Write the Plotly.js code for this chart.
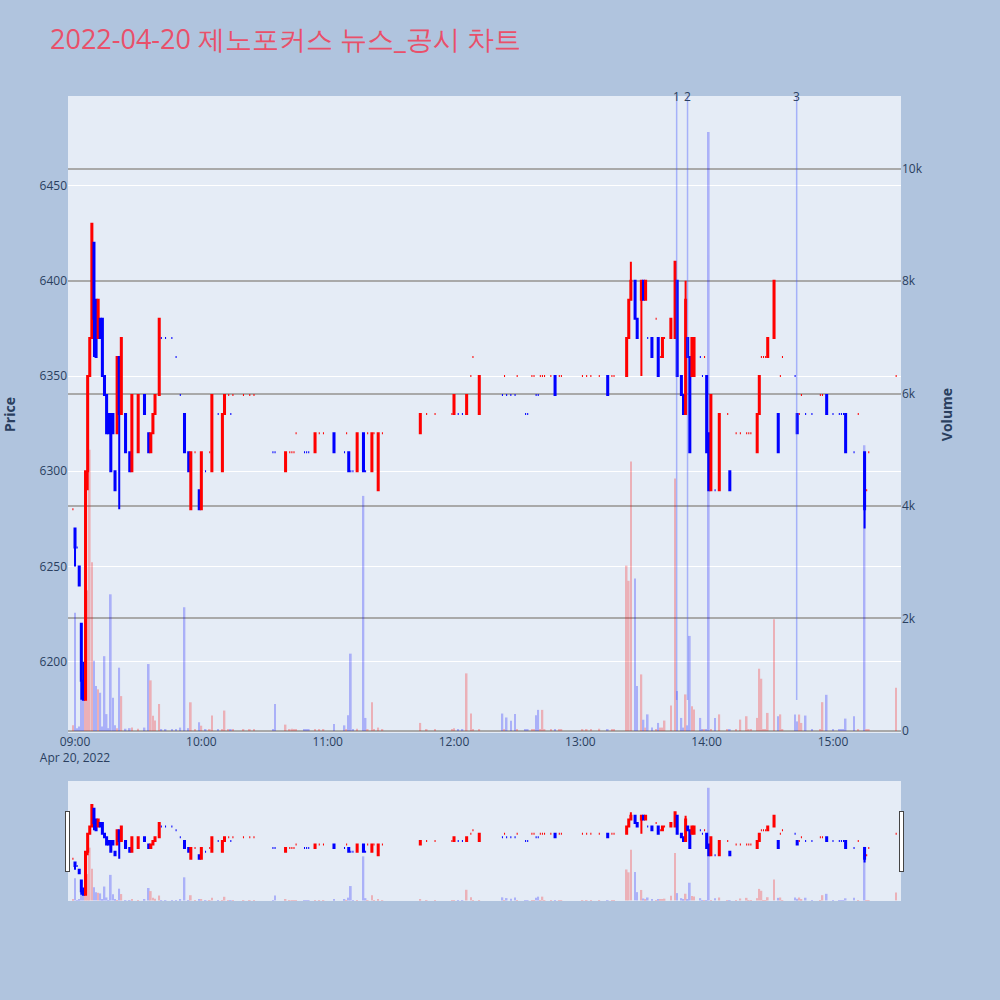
<!DOCTYPE html>
<html>
<head>
<meta charset="utf-8">
<script src="https://cdn.plot.ly/plotly-3.0.1.min.js"></script>
<style>html,body{margin:0;padding:0;background:#B0C4DE;}#chart{width:1000px;height:1000px;}</style>
</head>
<body>
<div id="chart"></div>
<script>
const DAY = '2022-04-20';
const times = [
 '08:59','09:00','09:01','09:02','09:03','09:04','09:05','09:06','09:07','09:08',
 '09:09','09:10','09:11','09:12','09:13','09:14','09:15','09:16','09:17','09:18',
 '09:19','09:20','09:21','09:22','09:24','09:26','09:27','09:30','09:33','09:35',
 '09:36','09:37','09:38','09:40','09:41','09:43','09:46','09:48','09:50','09:52',
 '09:54','09:55','09:57','09:59','10:00','10:02','10:04','10:05','10:08','10:10',
 '10:11','10:13','10:14','10:15','10:20','10:23','10:25','10:34','10:35','10:40',
 '10:42','10:43','10:44','10:45','10:49','10:50','10:51','10:54','10:56','10:58',
 '11:03','11:08','11:09','11:10','11:11','11:12','11:14','11:17','11:18','11:19',
 '11:21','11:22','11:24','11:26','11:44','11:47','11:51','11:59','12:00','12:02',
 '12:04','12:06','12:08','12:09','12:12','12:23','12:24','12:25','12:27','12:29',
 '12:30','12:34','12:35','12:37','12:38','12:39','12:40','12:41','12:42','12:43',
 '12:46','12:48','12:50','12:51','13:01','13:03','13:05','13:09','13:13','13:15',
 '13:16','13:22','13:23','13:24','13:26','13:27','13:29','13:30','13:31','13:32',
 '13:34','13:36','13:37','13:38','13:39','13:40','13:43','13:45','13:46','13:48',
 '13:49','13:50','13:51','13:52','13:53','13:54','13:57','13:58','13:59','14:00',
 '14:01','14:02','14:04','14:06','14:10','14:11','14:14','14:16','14:19','14:20',
 '14:21','14:24','14:25','14:26','14:27','14:28','14:29','14:32','14:34','14:35',
 '14:36','14:42','14:43','14:44','14:45','14:47','14:50','14:54','14:55','14:57',
 '15:00','15:03','15:04','15:05','15:06','15:10','15:12','15:15','15:16','15:17',
 '15:30'
];
const openP = [
 6280,6270,6260,6250,6220,6190,6180,6300,6350,6370,
 6420,6390,6370,6380,6380,6350,6340,6330,6330,6330,
 6300,6320,6360,6330,6330,6310,6300,6310,6340,6320,
 6310,6320,6330,6340,6370,6370,6370,6360,6340,6330,
 6310,6280,6310,6290,6280,6300,6310,6300,6330,6300,
 6330,6340,6330,6340,6340,6340,6340,6310,6310,6300,
 6310,6310,6310,6320,6310,6310,6310,6310,6320,6320,
 6320,6310,6320,6310,6300,6300,6300,6320,6300,6320,
 6300,6320,6290,6320,6320,6330,6330,6330,6330,6330,
 6330,6330,6350,6360,6330,6340,6350,6340,6340,6340,
 6350,6330,6330,6350,6350,6340,6340,6350,6350,6350,
 6350,6350,6350,6350,6350,6350,6350,6350,6350,6350,
 6350,6350,6370,6390,6400,6380,6390,6400,6390,6370,
 6370,6380,6370,6360,6360,6370,6370,6370,6400,6350,
 6340,6330,6370,6360,6350,6350,6360,6350,6360,6350,
 6320,6290,6290,6290,6330,6300,6320,6320,6320,6320,
 6320,6310,6330,6360,6360,6360,6360,6370,6330,6350,
 6360,6350,6330,6330,6340,6330,6330,6340,6340,6340,
 6330,6330,6330,6330,6330,6310,6330,6310,6290,6310,
 6350
];
const highP = [
 6280,6270,6260,6250,6220,6200,6300,6350,6370,6430,
 6420,6390,6390,6380,6380,6350,6340,6330,6330,6330,
 6300,6360,6360,6370,6330,6310,6340,6340,6340,6320,
 6320,6330,6340,6380,6370,6370,6370,6360,6340,6330,
 6310,6310,6310,6290,6310,6300,6310,6340,6330,6330,
 6340,6340,6330,6340,6340,6340,6340,6310,6310,6310,
 6310,6310,6310,6320,6310,6310,6310,6320,6320,6320,
 6320,6310,6320,6310,6300,6300,6320,6320,6300,6320,
 6320,6320,6320,6320,6330,6330,6330,6330,6340,6330,
 6330,6340,6350,6360,6350,6340,6350,6340,6340,6340,
 6350,6330,6330,6350,6350,6340,6340,6350,6350,6350,
 6350,6350,6350,6350,6350,6350,6350,6350,6350,6350,
 6350,6370,6390,6410,6400,6380,6400,6400,6400,6370,
 6370,6380,6370,6360,6370,6370,6380,6410,6400,6350,
 6340,6400,6370,6360,6370,6370,6360,6350,6360,6350,
 6320,6340,6290,6330,6330,6300,6320,6320,6320,6320,
 6320,6330,6350,6360,6360,6360,6370,6400,6330,6350,
 6360,6350,6330,6330,6340,6330,6330,6340,6340,6340,
 6330,6330,6330,6330,6330,6310,6330,6310,6290,6310,
 6350
];
const lowP = [
 6280,6250,6260,6240,6180,6180,6180,6290,6350,6370,
 6360,6360,6370,6370,6350,6340,6320,6320,6300,6320,
 6290,6320,6280,6330,6310,6300,6300,6310,6330,6310,
 6310,6320,6330,6340,6370,6370,6370,6360,6340,6310,
 6300,6280,6310,6280,6280,6300,6310,6300,6330,6300,
 6330,6340,6330,6340,6340,6340,6340,6310,6310,6300,
 6310,6310,6310,6320,6310,6310,6310,6310,6320,6320,
 6310,6310,6320,6300,6300,6300,6300,6300,6300,6320,
 6300,6320,6290,6320,6320,6330,6330,6330,6330,6330,
 6330,6330,6350,6360,6330,6340,6350,6340,6340,6340,
 6350,6330,6330,6350,6350,6340,6340,6350,6350,6350,
 6350,6340,6350,6350,6350,6350,6350,6350,6340,6350,
 6350,6350,6370,6390,6380,6370,6350,6390,6390,6370,
 6360,6380,6350,6360,6360,6370,6370,6370,6350,6340,
 6330,6330,6360,6310,6350,6350,6360,6350,6360,6310,
 6290,6290,6290,6290,6330,6290,6320,6320,6320,6320,
 6320,6310,6330,6360,6360,6360,6360,6370,6310,6350,
 6360,6350,6320,6330,6340,6330,6330,6340,6340,6330,
 6330,6330,6330,6330,6310,6310,6330,6270,6290,6310,
 6350
];
const closeP = [
 6280,6260,6260,6240,6190,6180,6300,6350,6370,6430,
 6380,6360,6390,6370,6350,6340,6320,6320,6300,6320,
 6290,6360,6330,6370,6310,6300,6340,6340,6330,6310,
 6320,6330,6340,6380,6370,6370,6370,6360,6340,6310,
 6300,6310,6310,6280,6310,6300,6310,6340,6330,6330,
 6340,6340,6330,6340,6340,6340,6340,6310,6310,6310,
 6310,6310,6310,6320,6310,6310,6310,6320,6320,6320,
 6310,6310,6320,6300,6300,6300,6320,6300,6300,6320,
 6320,6320,6320,6320,6330,6330,6330,6330,6340,6330,
 6330,6340,6350,6360,6350,6340,6350,6340,6340,6340,
 6350,6330,6330,6350,6350,6340,6340,6350,6350,6350,
 6350,6340,6350,6350,6350,6350,6350,6350,6340,6350,
 6350,6370,6390,6400,6380,6370,6400,6390,6400,6370,
 6360,6380,6350,6360,6370,6370,6380,6410,6350,6340,
 6330,6390,6360,6310,6370,6370,6360,6350,6360,6310,
 6290,6340,6290,6330,6330,6290,6320,6320,6320,6320,
 6320,6330,6350,6360,6360,6360,6370,6400,6310,6350,
 6360,6350,6320,6330,6340,6330,6330,6340,6340,6330,
 6330,6330,6330,6330,6310,6310,6330,6280,6290,6310,
 6350
];
const volume = [
 100,2100,50,80,1330,700,4400,2500,5000,3000,
 1250,800,740,680,80,1330,300,50,2430,590,
 100,50,1125,620,40,50,60,40,60,1190,
 900,270,185,480,20,20,20,20,60,2200,
 50,510,30,155,94,20,20,274,20,20,
 363,20,20,20,20,20,20,20,480,113,
 20,40,20,20,20,30,20,20,20,20,
 125,100,20,280,1375,20,40,4180,232,20,
 512,20,60,20,143,20,20,30,50,20,
 20,1024,310,20,20,310,20,240,180,300,
 20,20,20,20,20,280,375,20,375,20,
 20,30,20,20,20,30,30,40,30,20,
 20,2940,2670,4790,2710,800,1006,200,60,295,
 60,20,143,60,60,185,452,4490,710,232,
 60,650,100,1690,440,380,232,20,20,20,
 10650,20,232,295,20,20,20,202,262,20,
 20,232,1107,929,20,20,321,1988,262,295,
 20,292,170,292,143,274,20,20,512,643,
 20,20,20,20,220,262,20,5080,20,20,
 768
];
const newsTimes = ['13:45:45','13:50:55','14:42:45'];
const newsLabels = ['1','2','3'];

const xs = times.map(t => DAY + ' ' + t);

// candle direction (same rule as plotly: doji compares with previous close)
const dirColors = [];
let inc = true, cPrev = null;
for (let i = 0; i < xs.length; i++) {
  const o = openP[i], c = closeP[i];
  if (c === o) { if (cPrev !== null && c !== cPrev) inc = c > cPrev; }
  else inc = c > o;
  cPrev = c;
  dirColors.push(inc ? 'red' : 'blue');
}

const volTrace = {
  type: 'bar', x: xs, y: volume, yaxis: 'y2', name: 'Volume',
  marker: {color: dirColors, line: {width: 0}}, opacity: 0.25,
  hoverinfo: 'x+y'
};
const candle = {
  type: 'candlestick', x: xs, open: openP, high: highP, low: lowP, close: closeP,
  name: 'Price', yaxis: 'y',
  increasing: {line: {color: 'red', width: 2}, fillcolor: 'red'},
  decreasing: {line: {color: 'blue', width: 2}, fillcolor: 'blue'}
};

const xRange = [DAY + ' 08:56:40', DAY + ' 15:32:18'];
const shapes = newsTimes.map(t => ({
  type: 'line', xref: 'x', yref: 'paper', x0: DAY + ' ' + t, x1: DAY + ' ' + t,
  y0: 0.052, y1: 1, line: {color: 'rgba(70,90,255,0.4)', width: 1.5}
}));
const annotations = newsTimes.map((t, i) => ({
  xref: 'x', yref: 'paper', x: DAY + ' ' + t, y: 1, yanchor: 'middle',
  text: newsLabels[i], showarrow: false, font: {size: 12, color: '#2a3f5f'}
}));

const layout = {
  width: 1000, height: 1000,
  paper_bgcolor: '#B0C4DE', plot_bgcolor: '#E5ECF6',
  font: {family: '"Open Sans", verdana, arial, sans-serif', color: '#2a3f5f', size: 12},
  title: {text: '2022-04-20 제노포커스 뉴스_공시 차트', x: 0.05, xanchor: 'left', xref: 'container',
          y: 0.96, yanchor: 'middle', font: {size: 27, color: '#E9506A'}},
  margin: {l: 68, r: 99, t: 96, b: 100},
  showlegend: false,
  bargap: 0.2,
  xaxis: {
    type: 'date', range: xRange, showgrid: false, zeroline: false,
    rangeslider: {visible: true, range: xRange, thickness: 0.149, bgcolor: '#E5ECF6'}
  },
  yaxis: {
    title: {text: '<b>Price</b>', font: {size: 14}, standoff: 24},
    range: [6162.6, 6497], dtick: 50, tick0: 6200,
    gridcolor: 'white', gridwidth: 1, zeroline: false
  },
  yaxis2: {
    title: {text: '<b>Volume</b>', font: {size: 14}, standoff: 20},
    overlaying: 'y', side: 'right', range: [-36, 11290], dtick: 2000, tick0: 0,
    showgrid: true, gridcolor: '#A9A9A9', gridwidth: 2, zeroline: false
  },
  shapes: shapes,
  annotations: annotations
};

Plotly.newPlot('chart', [volTrace, candle], layout, {displayModeBar: false});
</script>
</body>
</html>
